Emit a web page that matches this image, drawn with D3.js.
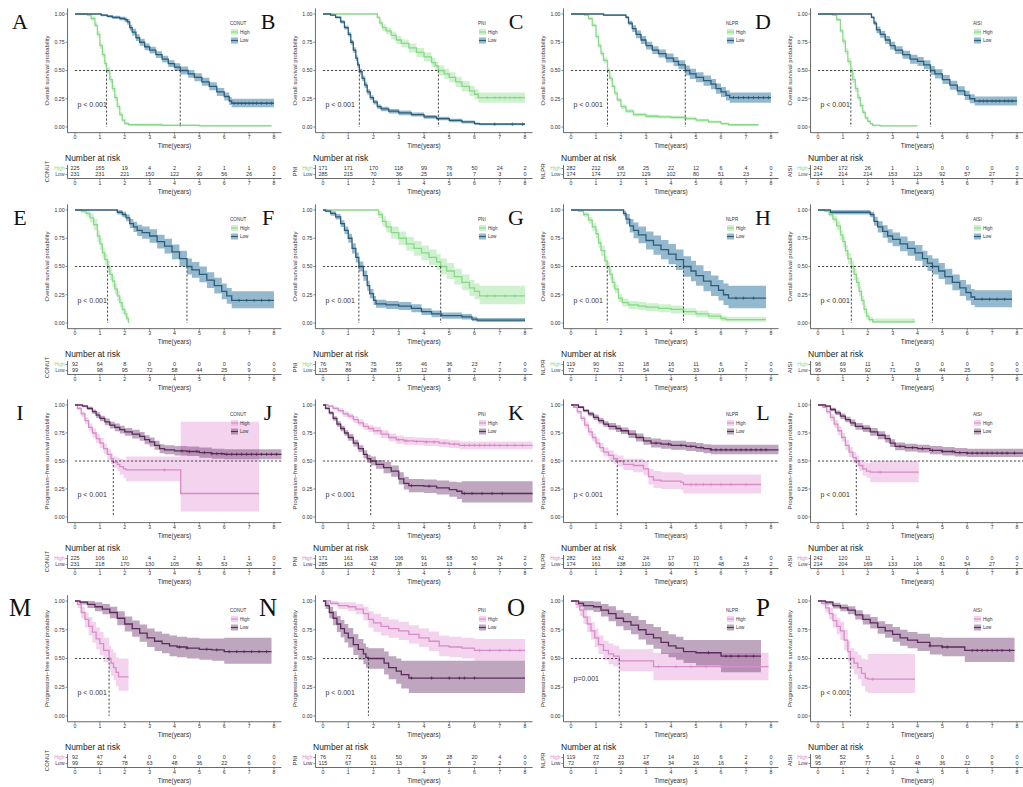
<!DOCTYPE html>
<html><head><meta charset="utf-8">
<script src="https://cdn.jsdelivr.net/npm/d3@7"></script>
<style>body{margin:0;background:#fff}svg{display:block}</style>
</head><body>
<svg id="c" width="1023" height="787"></svg>
<script>
// ---------- labels ----------
const letters = ["A","B","C","D","E","F","G","H","I","J","K","L","M","N","O","P"];
const groups = ["CONUT","PNI","NLPR","AISI"];
const xTicks = [0,1,2,3,4,5,6,7,8];
const yTicks = [0,0.25,0.5,0.75,1];
const yTickLabels = ["0.00","0.25","0.50","0.75","1.00"];
const endpointTitles = ["Overall survival probability","Progression\u2212free survival probability"];
const pTexts = ["p < 0.001","p < 0.001","p < 0.001","p < 0.001","p < 0.001","p < 0.001","p < 0.001","p < 0.001",
                "p < 0.001","p < 0.001","p < 0.001","p < 0.001","p < 0.001","p < 0.001","p=0.001","p < 0.001"];
const pLevels = [0.2,0.2,0.2,0.2,0.2,0.2,0.2,0.2,0.2,0.2,0.2,0.2,0.2,0.2,0.33,0.2];
const hLineFull = [0,0,0,0,0,0,0,0,1,1,1,1,0,0,0,0];
const groupLevels = ["High","Low"];

// ---------- curves: [time, survival, lower, upper] ----------
const aHigh=[[0,1,1,1],[0.5,0.99,0.98,1],[0.65,0.96,0.94,0.98],[0.8,0.9,0.88,0.93],[0.9,0.82,0.79,0.85],[1.0,0.72,0.69,0.75],[1.1,0.64,0.61,0.67],[1.2,0.56,0.53,0.59],[1.27,0.5,0.47,0.53],[1.4,0.42,0.39,0.45],[1.5,0.34,0.31,0.37],[1.6,0.26,0.23,0.29],[1.7,0.18,0.16,0.21],[1.8,0.11,0.09,0.13],[1.9,0.06,0.045,0.075],[2.0,0.03,0.02,0.045],[2.15,0.02,0.01,0.03],[3.5,0.015,0.007,0.025],[5,0.01,0.004,0.02],[7.9,0.01,0.004,0.02]];
const aLow=[[0,1,1,1],[1.05,0.99,0.98,1],[1.3,0.98,0.97,0.99],[1.5,0.97,0.955,0.985],[1.8,0.96,0.945,0.975],[2.0,0.95,0.93,0.97],[2.1,0.93,0.905,0.955],[2.2,0.88,0.855,0.905],[2.3,0.84,0.81,0.87],[2.45,0.79,0.76,0.82],[2.6,0.75,0.72,0.78],[2.8,0.71,0.68,0.74],[3.0,0.68,0.65,0.71],[3.25,0.64,0.61,0.67],[3.5,0.6,0.57,0.63],[3.75,0.56,0.53,0.59],[4.0,0.53,0.495,0.565],[4.23,0.5,0.465,0.535],[4.55,0.47,0.435,0.505],[4.8,0.44,0.405,0.475],[5.1,0.4,0.365,0.435],[5.4,0.36,0.325,0.395],[5.7,0.31,0.275,0.345],[6.0,0.27,0.235,0.305],[6.2,0.23,0.195,0.265],[6.3,0.21,0.175,0.25],[8,0.21,0.175,0.25]];
const bHigh=[[0,1,1,1],[2.15,0.97,0.955,0.985],[2.25,0.92,0.895,0.945],[2.35,0.88,0.85,0.91],[2.5,0.85,0.82,0.88],[2.7,0.81,0.775,0.845],[2.9,0.77,0.735,0.805],[3.1,0.74,0.705,0.775],[3.4,0.7,0.66,0.74],[3.7,0.66,0.62,0.7],[4.0,0.62,0.58,0.66],[4.3,0.57,0.53,0.61],[4.45,0.54,0.5,0.58],[4.57,0.5,0.455,0.545],[4.8,0.47,0.425,0.515],[5.0,0.44,0.395,0.485],[5.25,0.4,0.355,0.445],[5.5,0.36,0.315,0.405],[5.8,0.32,0.275,0.365],[6.0,0.29,0.245,0.335],[6.15,0.26,0.215,0.305],[8,0.26,0.215,0.31]];
const bLow=[[0,1,1,1],[0.3,0.99,0.985,0.995],[0.5,0.97,0.96,0.98],[0.7,0.93,0.915,0.945],[0.85,0.88,0.862,0.898],[1.0,0.82,0.8,0.84],[1.1,0.75,0.728,0.772],[1.2,0.68,0.655,0.705],[1.3,0.61,0.585,0.635],[1.37,0.55,0.525,0.575],[1.44,0.49,0.465,0.515],[1.55,0.43,0.405,0.455],[1.65,0.37,0.345,0.395],[1.75,0.31,0.285,0.335],[1.87,0.26,0.238,0.282],[2.0,0.22,0.2,0.24],[2.15,0.18,0.16,0.2],[2.3,0.16,0.14,0.18],[2.6,0.14,0.12,0.16],[3.0,0.125,0.105,0.145],[3.5,0.11,0.092,0.128],[4.0,0.09,0.073,0.107],[4.5,0.075,0.059,0.091],[5.0,0.058,0.043,0.073],[5.5,0.045,0.032,0.058],[6.0,0.03,0.02,0.04],[6.2,0.025,0.015,0.035],[8,0.025,0.015,0.035]];
const cHigh=[[0,1,1,1],[0.55,0.99,0.985,0.995],[0.7,0.96,0.95,0.97],[0.85,0.9,0.885,0.915],[1.0,0.8,0.78,0.82],[1.1,0.72,0.695,0.745],[1.2,0.65,0.625,0.675],[1.3,0.59,0.565,0.615],[1.46,0.5,0.475,0.525],[1.55,0.43,0.405,0.455],[1.65,0.36,0.335,0.385],[1.75,0.3,0.278,0.322],[1.85,0.24,0.22,0.26],[2.0,0.18,0.16,0.2],[2.2,0.14,0.122,0.158],[2.5,0.11,0.094,0.126],[3.0,0.095,0.08,0.11],[3.5,0.09,0.075,0.105],[4.0,0.085,0.07,0.1],[4.6,0.075,0.06,0.09],[5.0,0.06,0.047,0.073],[5.5,0.045,0.033,0.057],[6.0,0.03,0.02,0.04],[6.3,0.02,0.012,0.028],[7.5,0.02,0.012,0.028]];
const cLow=[[0,1,1,1],[1.3,0.99,0.982,0.998],[2.2,0.97,0.958,0.982],[2.3,0.92,0.9,0.94],[2.45,0.87,0.84,0.9],[2.6,0.82,0.785,0.855],[2.8,0.77,0.735,0.805],[3.0,0.72,0.685,0.755],[3.25,0.68,0.645,0.715],[3.5,0.65,0.615,0.685],[3.8,0.61,0.57,0.65],[4.1,0.58,0.54,0.62],[4.3,0.55,0.51,0.59],[4.57,0.5,0.455,0.545],[4.75,0.47,0.425,0.515],[5.0,0.44,0.395,0.485],[5.3,0.41,0.365,0.455],[5.6,0.38,0.335,0.425],[5.8,0.34,0.295,0.385],[6.0,0.31,0.265,0.355],[6.2,0.28,0.235,0.325],[6.35,0.26,0.215,0.305],[8,0.26,0.215,0.305]];
const dHigh=[[0,1,1,1],[0.6,0.99,0.985,0.995],[0.75,0.95,0.938,0.962],[0.9,0.85,0.83,0.87],[1.0,0.76,0.735,0.785],[1.1,0.67,0.64,0.7],[1.2,0.58,0.55,0.61],[1.32,0.5,0.47,0.53],[1.4,0.42,0.39,0.45],[1.5,0.34,0.31,0.37],[1.6,0.26,0.232,0.288],[1.7,0.19,0.165,0.215],[1.8,0.13,0.11,0.15],[1.9,0.08,0.065,0.095],[2.0,0.05,0.038,0.062],[2.1,0.03,0.02,0.04],[2.2,0.015,0.007,0.023],[2.5,0.01,0.004,0.016],[4.0,0.01,0.004,0.016]];
const dLow=[[0,1,1,1],[2.15,0.97,0.96,0.98],[2.25,0.92,0.9,0.94],[2.35,0.86,0.83,0.89],[2.5,0.82,0.79,0.85],[2.7,0.77,0.735,0.805],[2.9,0.72,0.685,0.755],[3.1,0.68,0.645,0.715],[3.4,0.64,0.605,0.675],[3.7,0.6,0.56,0.64],[4.0,0.58,0.54,0.62],[4.25,0.55,0.51,0.59],[4.52,0.5,0.46,0.54],[4.7,0.47,0.43,0.51],[5.0,0.42,0.38,0.46],[5.3,0.37,0.33,0.41],[5.6,0.32,0.28,0.36],[5.9,0.28,0.24,0.32],[6.1,0.25,0.21,0.29],[6.3,0.23,0.19,0.27],[8,0.23,0.19,0.27]];
const eHigh=[[0,1,1,1],[0.25,0.99,0.97,1],[0.45,0.97,0.94,1],[0.6,0.93,0.89,0.97],[0.75,0.87,0.82,0.92],[0.9,0.77,0.72,0.82],[1.0,0.7,0.65,0.75],[1.1,0.62,0.57,0.67],[1.2,0.56,0.51,0.61],[1.31,0.5,0.45,0.55],[1.4,0.43,0.38,0.48],[1.5,0.37,0.32,0.42],[1.6,0.3,0.255,0.345],[1.7,0.24,0.195,0.285],[1.8,0.18,0.14,0.22],[1.9,0.12,0.085,0.155],[2.0,0.08,0.05,0.11],[2.08,0.04,0.015,0.065],[2.15,0,0,0]];
const eLow=[[0,1,1,1],[1.7,0.98,0.96,1],[1.9,0.96,0.935,0.985],[2.05,0.93,0.9,0.96],[2.2,0.88,0.84,0.92],[2.35,0.85,0.805,0.895],[2.5,0.82,0.77,0.87],[2.7,0.8,0.745,0.855],[3.0,0.77,0.71,0.83],[3.3,0.72,0.66,0.78],[3.6,0.68,0.615,0.745],[3.9,0.63,0.565,0.695],[4.2,0.57,0.5,0.64],[4.5,0.5,0.43,0.57],[4.7,0.47,0.4,0.54],[5.0,0.43,0.36,0.5],[5.3,0.38,0.31,0.45],[5.6,0.33,0.26,0.4],[5.9,0.28,0.21,0.35],[6.1,0.24,0.17,0.31],[6.3,0.2,0.13,0.28],[8,0.2,0.13,0.28]];
const fHigh=[[0,1,1,1],[2.2,0.96,0.93,0.99],[2.35,0.9,0.855,0.945],[2.5,0.85,0.8,0.9],[2.7,0.8,0.745,0.855],[3.0,0.75,0.69,0.81],[3.3,0.7,0.64,0.76],[3.6,0.66,0.595,0.725],[3.9,0.62,0.555,0.685],[4.2,0.58,0.51,0.65],[4.5,0.54,0.47,0.61],[4.66,0.5,0.43,0.57],[4.9,0.46,0.39,0.53],[5.2,0.41,0.34,0.48],[5.5,0.36,0.29,0.43],[5.8,0.31,0.24,0.38],[6.0,0.28,0.21,0.35],[6.2,0.24,0.165,0.33],[8,0.24,0.165,0.33]];
const fLow=[[0,1,1,1],[0.1,0.99,0.98,1],[0.3,0.97,0.95,0.99],[0.5,0.94,0.915,0.965],[0.7,0.88,0.85,0.91],[0.85,0.82,0.785,0.855],[1.0,0.75,0.71,0.79],[1.15,0.66,0.615,0.705],[1.3,0.58,0.535,0.625],[1.42,0.5,0.455,0.545],[1.6,0.42,0.375,0.465],[1.75,0.33,0.285,0.375],[1.85,0.26,0.22,0.3],[2.0,0.2,0.16,0.24],[2.1,0.17,0.135,0.205],[2.5,0.16,0.125,0.195],[3.0,0.15,0.115,0.185],[3.5,0.13,0.095,0.165],[3.9,0.1,0.07,0.13],[4.3,0.08,0.05,0.11],[4.7,0.065,0.037,0.093],[5.5,0.055,0.03,0.08],[5.9,0.035,0.015,0.055],[6.1,0.025,0.008,0.045],[8,0.025,0.008,0.045]];
const gHigh=[[0,1,1,1],[0.3,0.99,0.98,1],[0.5,0.96,0.94,0.98],[0.7,0.91,0.88,0.94],[0.85,0.85,0.815,0.885],[1.0,0.79,0.75,0.83],[1.1,0.71,0.665,0.755],[1.2,0.64,0.595,0.685],[1.35,0.55,0.505,0.595],[1.45,0.5,0.455,0.545],[1.55,0.43,0.385,0.475],[1.65,0.36,0.315,0.405],[1.75,0.3,0.26,0.34],[1.9,0.22,0.185,0.255],[2.05,0.18,0.145,0.215],[2.3,0.16,0.125,0.195],[2.7,0.15,0.115,0.185],[3.0,0.14,0.105,0.175],[3.5,0.13,0.095,0.165],[4.0,0.12,0.085,0.155],[4.5,0.1,0.07,0.13],[5.0,0.08,0.05,0.11],[5.5,0.06,0.035,0.088],[6.0,0.04,0.018,0.065],[6.2,0.03,0.01,0.055],[7.8,0.03,0.01,0.055]];
const gLow=[[0,1,1,1],[2.1,0.97,0.945,0.995],[2.2,0.92,0.875,0.965],[2.35,0.86,0.8,0.92],[2.5,0.82,0.75,0.89],[2.7,0.78,0.705,0.855],[3.0,0.73,0.65,0.81],[3.3,0.69,0.605,0.775],[3.6,0.65,0.565,0.735],[3.9,0.61,0.52,0.7],[4.2,0.56,0.47,0.65],[4.5,0.5,0.41,0.59],[4.8,0.46,0.37,0.55],[5.0,0.42,0.33,0.51],[5.3,0.37,0.28,0.46],[5.6,0.33,0.24,0.42],[5.9,0.29,0.2,0.38],[6.1,0.25,0.16,0.35],[6.3,0.22,0.13,0.33],[7.8,0.22,0.13,0.33]];
const hHigh=[[0,1,1,1],[0.25,0.99,0.98,1],[0.45,0.96,0.94,0.98],[0.6,0.92,0.89,0.95],[0.75,0.86,0.82,0.9],[0.9,0.78,0.735,0.825],[1.0,0.72,0.67,0.77],[1.1,0.64,0.59,0.69],[1.2,0.57,0.52,0.62],[1.34,0.5,0.45,0.55],[1.45,0.43,0.38,0.48],[1.55,0.36,0.315,0.405],[1.65,0.28,0.235,0.325],[1.75,0.2,0.16,0.24],[1.85,0.12,0.085,0.155],[1.95,0.06,0.03,0.09],[2.05,0.03,0.01,0.055],[2.2,0.01,0,0.04],[3.9,0.01,0,0.04]];
const hLow=[[0,1,1,1],[0.5,0.98,0.96,1],[2.1,0.96,0.935,0.985],[2.25,0.9,0.86,0.94],[2.4,0.85,0.8,0.9],[2.6,0.81,0.755,0.865],[2.8,0.77,0.71,0.83],[3.0,0.74,0.68,0.8],[3.3,0.7,0.635,0.765],[3.6,0.66,0.595,0.725],[3.9,0.62,0.55,0.69],[4.2,0.57,0.5,0.64],[4.4,0.53,0.46,0.6],[4.6,0.5,0.43,0.57],[4.85,0.46,0.39,0.53],[5.1,0.41,0.34,0.48],[5.4,0.36,0.29,0.43],[5.7,0.31,0.24,0.38],[5.95,0.27,0.2,0.34],[6.15,0.23,0.16,0.3],[6.3,0.21,0.14,0.29],[7.8,0.21,0.14,0.29]];
const iHigh=[[0,1,1,1],[0.1,0.97,0.955,0.985],[0.25,0.92,0.895,0.945],[0.4,0.86,0.83,0.89],[0.55,0.8,0.765,0.835],[0.7,0.75,0.71,0.79],[0.85,0.7,0.66,0.74],[1.0,0.66,0.615,0.705],[1.15,0.61,0.565,0.655],[1.3,0.56,0.51,0.61],[1.45,0.52,0.47,0.57],[1.54,0.49,0.44,0.54],[1.7,0.47,0.41,0.53],[1.8,0.45,0.38,0.52],[1.95,0.43,0.35,0.51],[2.05,0.42,0.32,0.54],[4.25,0.21,0.05,0.85],[7.4,0.21,0.05,0.85]];
const iLow=[[0,1,1,1],[0.3,0.99,0.98,1],[0.5,0.97,0.955,0.985],[0.7,0.94,0.92,0.96],[0.85,0.91,0.885,0.935],[1.0,0.88,0.855,0.905],[1.2,0.85,0.82,0.88],[1.4,0.82,0.79,0.85],[1.6,0.8,0.765,0.835],[1.8,0.78,0.745,0.815],[2.0,0.76,0.725,0.795],[2.3,0.74,0.7,0.78],[2.6,0.72,0.68,0.76],[2.8,0.69,0.65,0.73],[3.0,0.67,0.63,0.71],[3.2,0.64,0.6,0.68],[3.4,0.61,0.57,0.65],[3.6,0.6,0.56,0.64],[4.0,0.59,0.55,0.635],[4.5,0.585,0.545,0.63],[5.0,0.575,0.53,0.62],[5.5,0.565,0.52,0.61],[6.0,0.56,0.515,0.605],[8.3,0.56,0.515,0.61]];
const jHigh=[[0,1,1,1],[0.2,0.99,0.98,1],[0.4,0.97,0.955,0.985],[0.6,0.95,0.93,0.97],[0.8,0.92,0.895,0.945],[1.0,0.9,0.875,0.925],[1.2,0.87,0.84,0.9],[1.4,0.84,0.81,0.87],[1.6,0.81,0.78,0.84],[1.8,0.79,0.76,0.82],[2.0,0.77,0.735,0.805],[2.3,0.74,0.705,0.775],[2.6,0.71,0.675,0.745],[2.9,0.69,0.655,0.725],[3.2,0.68,0.645,0.715],[3.6,0.675,0.64,0.71],[4.0,0.67,0.635,0.705],[4.6,0.66,0.625,0.695],[5.0,0.65,0.615,0.685],[5.4,0.64,0.605,0.675],[8.3,0.64,0.605,0.675]];
const jLow=[[0,1,1,1],[0.1,0.97,0.96,0.98],[0.25,0.93,0.915,0.945],[0.4,0.88,0.86,0.9],[0.55,0.83,0.805,0.855],[0.7,0.79,0.765,0.815],[0.85,0.75,0.725,0.775],[1.0,0.71,0.68,0.74],[1.2,0.66,0.63,0.69],[1.4,0.61,0.58,0.64],[1.6,0.56,0.525,0.595],[1.75,0.52,0.485,0.555],[1.89,0.5,0.46,0.54],[2.1,0.47,0.43,0.51],[2.4,0.44,0.39,0.49],[2.7,0.41,0.36,0.46],[3.0,0.34,0.29,0.4],[3.2,0.3,0.245,0.36],[3.4,0.28,0.22,0.34],[4.0,0.275,0.215,0.335],[4.5,0.26,0.2,0.325],[5.0,0.245,0.18,0.315],[5.3,0.23,0.16,0.31],[5.5,0.21,0.13,0.32],[8.3,0.21,0.13,0.32]];
const kHigh=[[0,1,1,1],[0.1,0.98,0.97,0.99],[0.25,0.94,0.92,0.96],[0.4,0.88,0.855,0.905],[0.55,0.82,0.79,0.85],[0.7,0.76,0.725,0.795],[0.85,0.71,0.675,0.745],[1.0,0.66,0.62,0.7],[1.15,0.62,0.58,0.66],[1.3,0.58,0.54,0.62],[1.5,0.55,0.505,0.595],[1.7,0.52,0.475,0.565],[1.85,0.5,0.45,0.55],[2.1,0.47,0.42,0.52],[2.5,0.46,0.4,0.52],[2.9,0.43,0.37,0.5],[3.1,0.36,0.29,0.43],[3.3,0.33,0.26,0.41],[3.6,0.32,0.25,0.4],[4.4,0.31,0.24,0.39],[4.5,0.29,0.21,0.38],[7.6,0.29,0.21,0.38]];
const kLow=[[0,1,1,1],[0.3,0.98,0.97,0.99],[0.5,0.95,0.935,0.965],[0.7,0.92,0.9,0.94],[0.9,0.89,0.865,0.915],[1.1,0.86,0.835,0.885],[1.3,0.83,0.805,0.855],[1.5,0.81,0.78,0.84],[1.8,0.79,0.76,0.82],[2.0,0.77,0.74,0.8],[2.3,0.74,0.705,0.775],[2.6,0.71,0.675,0.745],[2.9,0.68,0.645,0.715],[3.2,0.66,0.62,0.7],[3.6,0.65,0.61,0.69],[4.0,0.64,0.6,0.68],[4.6,0.63,0.59,0.67],[5.0,0.62,0.58,0.66],[5.3,0.61,0.57,0.65],[5.6,0.6,0.56,0.645],[8.3,0.6,0.555,0.645]];
const lHigh=[[0,1,1,1],[0.2,0.98,0.97,0.99],[0.35,0.94,0.92,0.96],[0.5,0.89,0.86,0.92],[0.65,0.83,0.795,0.865],[0.8,0.77,0.73,0.81],[0.95,0.71,0.67,0.75],[1.1,0.64,0.595,0.685],[1.25,0.58,0.535,0.625],[1.4,0.53,0.48,0.58],[1.54,0.5,0.45,0.55],[1.65,0.46,0.41,0.51],[1.8,0.43,0.37,0.49],[1.95,0.41,0.35,0.48],[2.1,0.4,0.31,0.5],[4.05,0.4,0.31,0.5]];
const lLow=[[0,1,1,1],[0.3,0.99,0.98,1],[0.5,0.96,0.945,0.975],[0.7,0.93,0.91,0.95],[0.9,0.9,0.875,0.925],[1.1,0.87,0.845,0.895],[1.3,0.84,0.81,0.87],[1.5,0.81,0.78,0.84],[1.8,0.79,0.76,0.82],[2.1,0.76,0.725,0.795],[2.4,0.73,0.695,0.765],[2.7,0.7,0.665,0.735],[2.9,0.66,0.625,0.695],[3.1,0.63,0.595,0.665],[3.5,0.62,0.585,0.655],[4.0,0.61,0.575,0.645],[4.5,0.595,0.56,0.635],[5.0,0.585,0.55,0.625],[5.5,0.575,0.54,0.615],[6.0,0.57,0.535,0.61],[8.3,0.57,0.53,0.61]];
const mHigh=[[0,1,1,1],[0.1,0.97,0.94,1],[0.25,0.9,0.85,0.95],[0.4,0.84,0.77,0.9],[0.55,0.78,0.7,0.86],[0.7,0.73,0.64,0.82],[0.85,0.67,0.58,0.77],[1.0,0.63,0.53,0.73],[1.15,0.57,0.47,0.68],[1.37,0.5,0.4,0.61],[1.45,0.46,0.35,0.58],[1.55,0.42,0.31,0.55],[1.65,0.38,0.26,0.51],[1.75,0.34,0.22,0.5],[2.15,0.34,0.22,0.5]];
const mLow=[[0,1,1,1],[0.2,0.99,0.97,1],[0.5,0.97,0.94,1],[0.8,0.95,0.91,0.99],[1.1,0.93,0.885,0.975],[1.4,0.9,0.85,0.95],[1.7,0.85,0.79,0.91],[2.0,0.8,0.735,0.865],[2.3,0.76,0.69,0.83],[2.6,0.72,0.645,0.795],[2.9,0.68,0.6,0.76],[3.2,0.65,0.565,0.735],[3.5,0.63,0.545,0.715],[3.8,0.61,0.52,0.7],[4.1,0.6,0.51,0.69],[4.5,0.59,0.5,0.68],[5.0,0.58,0.49,0.675],[5.5,0.575,0.48,0.675],[6.0,0.56,0.455,0.68],[7.9,0.56,0.455,0.68]];
const nHigh=[[0,1,1,1],[0.3,0.98,0.96,1],[0.6,0.96,0.93,0.99],[1.0,0.95,0.91,0.99],[1.3,0.93,0.885,0.975],[1.6,0.89,0.83,0.95],[1.8,0.84,0.77,0.91],[2.0,0.81,0.73,0.89],[2.3,0.78,0.7,0.86],[2.6,0.76,0.68,0.84],[3.0,0.74,0.66,0.82],[3.4,0.71,0.63,0.79],[3.8,0.68,0.6,0.76],[4.2,0.65,0.565,0.735],[4.6,0.61,0.52,0.7],[5.0,0.6,0.51,0.69],[5.5,0.59,0.5,0.68],[6.0,0.57,0.48,0.67],[8,0.57,0.48,0.67]];
const nLow=[[0,1,1,1],[0.1,0.96,0.93,0.99],[0.25,0.9,0.85,0.95],[0.4,0.85,0.79,0.91],[0.55,0.8,0.73,0.87],[0.7,0.76,0.685,0.835],[0.85,0.72,0.64,0.8],[1.0,0.68,0.595,0.765],[1.2,0.62,0.53,0.71],[1.4,0.58,0.49,0.67],[1.6,0.54,0.45,0.63],[1.7,0.51,0.42,0.6],[1.8,0.5,0.41,0.59],[2.42,0.46,0.36,0.56],[2.6,0.42,0.32,0.52],[2.9,0.39,0.28,0.5],[3.1,0.36,0.24,0.48],[3.4,0.33,0.2,0.48],[8,0.33,0.2,0.48]];
const oHigh=[[0,1,1,1],[0.2,0.97,0.94,1],[0.35,0.92,0.87,0.97],[0.5,0.86,0.8,0.92],[0.65,0.8,0.73,0.87],[0.8,0.74,0.665,0.815],[0.95,0.68,0.6,0.76],[1.1,0.62,0.54,0.7],[1.3,0.57,0.485,0.655],[1.5,0.54,0.45,0.63],[1.7,0.52,0.43,0.61],[1.93,0.48,0.39,0.58],[3.3,0.43,0.31,0.55],[7.9,0.43,0.31,0.55]];
const oLow=[[0,1,1,1],[0.3,0.98,0.95,1],[0.5,0.96,0.92,1],[0.9,0.95,0.905,0.995],[1.2,0.92,0.865,0.975],[1.5,0.89,0.825,0.955],[1.8,0.85,0.78,0.92],[2.1,0.82,0.745,0.895],[2.4,0.79,0.71,0.87],[2.7,0.75,0.665,0.835],[3.0,0.71,0.62,0.8],[3.3,0.68,0.585,0.775],[3.6,0.64,0.54,0.74],[3.9,0.61,0.51,0.71],[4.2,0.59,0.49,0.69],[4.5,0.56,0.46,0.66],[5.0,0.55,0.44,0.66],[6.0,0.52,0.38,0.66],[7.6,0.52,0.38,0.66]];
const pHigh=[[0,1,1,1],[0.15,0.98,0.96,1],[0.3,0.94,0.9,0.98],[0.45,0.89,0.84,0.94],[0.6,0.83,0.77,0.89],[0.75,0.78,0.71,0.85],[0.9,0.74,0.66,0.82],[1.05,0.66,0.57,0.75],[1.2,0.56,0.47,0.65],[1.3,0.5,0.41,0.59],[1.45,0.46,0.36,0.56],[1.6,0.42,0.32,0.53],[1.75,0.37,0.26,0.5],[1.9,0.33,0.21,0.49],[2.0,0.32,0.2,0.54],[3.9,0.32,0.2,0.54]];
const pLow=[[0,1,1,1],[0.3,0.99,0.97,1],[0.6,0.96,0.935,0.985],[0.9,0.94,0.91,0.97],[1.2,0.92,0.885,0.955],[1.5,0.88,0.84,0.92],[1.8,0.84,0.795,0.885],[2.1,0.81,0.76,0.86],[2.4,0.77,0.715,0.825],[2.7,0.74,0.68,0.8],[3.0,0.71,0.645,0.775],[3.3,0.68,0.61,0.75],[3.6,0.66,0.59,0.73],[4.0,0.64,0.565,0.715],[4.5,0.61,0.535,0.685],[5.0,0.6,0.52,0.68],[5.5,0.6,0.52,0.68],[5.9,0.57,0.47,0.68],[7.9,0.57,0.47,0.68]];

// ---------- censoring times ----------
const aCensHigh=[], aCensLow=[6.4,6.55,6.7,6.85,7.0,7.15,7.3,7.5,7.7,7.9];
const bCensHigh=[6.5,6.8,7.0,7.2,7.4,7.6,7.8], bCensLow=[6.8,7.5,7.9];
const cCensHigh=[], cCensLow=[6.5,6.7,6.9,7.1,7.3,7.5,7.7,7.9];
const dCensHigh=[], dCensLow=[6.5,6.65,6.8,7.0,7.15,7.3,7.5,7.65,7.8];
const eCensHigh=[], eCensLow=[6.6,6.9,7.2,7.5,7.8];
const fCensHigh=[6.5,6.8,7.2,7.6], fCensLow=[];
const gCensHigh=[], gCensLow=[6.6,6.9,7.3];
const hCensHigh=[], hCensLow=[6.6,6.9,7.2,7.5];
const iCensHigh=[3.6], iCensLow=[4.3,4.6,4.9,5.2,5.5,5.7,5.9,6.1,6.3,6.5,6.7,6.9,7.1,7.3,7.5,7.7,7.9,8.1];
const jCensHigh=[3.0,3.3,3.7,4.1,4.4,4.8,5.2,5.6,5.8,6.0,6.2,6.4,6.6,6.8,7.0,7.3,7.6,7.9], jCensLow=[3.5,4.2,5.6,5.9,6.3,6.7,7.1];
const kCensHigh=[4.8,5.0,5.3,5.6,6.0,6.4,7.0], kCensLow=[3.4,3.9,4.4,4.8,5.2,5.6,5.8,6.0,6.2,6.4,6.6,6.8,7.0,7.2,7.4,7.6,7.8];
const lCensHigh=[2.5], lCensLow=[3.3,3.8,4.2,4.6,5.0,5.4,5.7,6.0,6.2,6.4,6.6,6.8,7.0,7.2,7.4,7.6,7.9];
const mCensHigh=[], mCensLow=[4.2,4.5,5.3,5.7,6.2,6.5,6.8,7.1,7.4,7.7];
const nCensHigh=[6.2,6.6,7.0,7.4,7.8], nCensLow=[3.5,4.3,5.0,5.4,5.6,6.0];
const oCensHigh=[3.5,4.2,4.8,5.4,6.0,7.0], oCensLow=[5.5,6.2,6.4,6.7,7.0,7.3];
const pCensHigh=[2.2], pCensLow=[4.5,5.0,5.2,6.2,6.4,6.6,6.8,7.0,7.2,7.4,7.7];

// ---------- numbers at risk (years 0..8) ----------
const aRiskHigh=[225,155,19,4,2,2,1,1,0], aRiskLow=[231,231,221,150,122,90,56,26,2];
const bRiskHigh=[171,171,170,118,99,76,50,24,2], bRiskLow=[285,215,70,36,25,16,7,3,0];
const cRiskHigh=[282,212,68,25,22,12,6,4,0], cRiskLow=[174,174,172,129,102,80,51,23,2];
const dRiskHigh=[242,172,26,1,1,0,0,0,0], dRiskLow=[214,214,214,153,123,92,57,27,2];
const eRiskHigh=[92,64,8,0,0,0,0,0,0], eRiskLow=[99,98,95,72,58,44,25,9,0];
const fRiskHigh=[76,76,75,55,46,36,23,7,0], fRiskLow=[115,86,28,17,12,8,2,2,0];
const gRiskHigh=[119,90,32,18,16,11,6,2,0], gRiskLow=[72,72,71,54,42,33,19,7,0];
const hRiskHigh=[96,69,11,1,0,0,0,0,0], hRiskLow=[95,93,92,71,58,44,25,9,0];
const iRiskHigh=[225,106,10,4,2,1,1,1,0], iRiskLow=[231,218,170,130,105,80,53,26,2];
const jRiskHigh=[171,161,138,106,91,68,50,24,2], jRiskLow=[285,163,42,28,16,13,4,3,0];
const kRiskHigh=[282,163,42,24,17,10,6,4,0], kRiskLow=[174,161,138,110,90,71,48,23,2];
const lRiskHigh=[242,120,11,1,1,0,0,0,0], lRiskLow=[214,204,169,133,106,81,54,27,2];
const mRiskHigh=[92,47,4,0,0,0,0,0,0], mRiskLow=[99,92,78,63,48,36,22,6,0];
const nRiskHigh=[76,72,61,50,39,28,20,4,0], nRiskLow=[115,67,21,13,9,8,2,2,0];
const oRiskHigh=[119,72,23,17,14,10,6,2,0], oRiskLow=[72,67,59,48,34,26,16,4,0];
const pRiskHigh=[96,52,5,1,0,0,0,0,0], pRiskLow=[95,87,77,62,48,36,22,6,0];

// ---------- assemble ----------
const curveSets=[[aHigh,aLow],[bHigh,bLow],[cHigh,cLow],[dHigh,dLow],[eHigh,eLow],[fHigh,fLow],[gHigh,gLow],[hHigh,hLow],
  [iHigh,iLow],[jHigh,jLow],[kHigh,kLow],[lHigh,lLow],[mHigh,mLow],[nHigh,nLow],[oHigh,oLow],[pHigh,pLow]];
const censSets=[[aCensHigh,aCensLow],[bCensHigh,bCensLow],[cCensHigh,cCensLow],[dCensHigh,dCensLow],[eCensHigh,eCensLow],[fCensHigh,fCensLow],[gCensHigh,gCensLow],[hCensHigh,hCensLow],
  [iCensHigh,iCensLow],[jCensHigh,jCensLow],[kCensHigh,kCensLow],[lCensHigh,lCensLow],[mCensHigh,mCensLow],[nCensHigh,nCensLow],[oCensHigh,oCensLow],[pCensHigh,pCensLow]];
const riskSets=[[aRiskHigh,aRiskLow],[bRiskHigh,bRiskLow],[cRiskHigh,cRiskLow],[dRiskHigh,dRiskLow],[eRiskHigh,eRiskLow],[fRiskHigh,fRiskLow],[gRiskHigh,gRiskLow],[hRiskHigh,hRiskLow],
  [iRiskHigh,iRiskLow],[jRiskHigh,jRiskLow],[kRiskHigh,kRiskLow],[lRiskHigh,lRiskLow],[mRiskHigh,mRiskLow],[nRiskHigh,nRiskLow],[oRiskHigh,oRiskLow],[pRiskHigh,pRiskLow]];

// ---------- layout & style ----------
const colX0=[75,323,571,818], colX8=[274,525,771,1017];
const rowTop=[14,210,405,601], rowY0=[127,323,517,716];
const palettes=[
  {line:["#86da86","#2b5c78"], fill:["#9fe49f","#3d7fa6"], op:[0.5,0.55]},
  {line:["#d88cc8","#5c2b5c"], fill:["#e7a8dc","#7d4d7d"], op:[0.5,0.5]}
];
const FONT="Liberation Sans, Arial, sans-serif";
const TXT="#333";

const svg=d3.select("#c");
svg.append("rect").attr("width",1023).attr("height",787).attr("fill","#fff");

function stepVal(curve,t){let v=curve[0][1];for(const k of curve){if(k[0]<=t)v=k[1];else break;}return v;}
function median(curve){for(const k of curve){if(k[1]<=0.5)return k[0];}return null;}

letters.forEach((L,i)=>{
  const r=Math.floor(i/4), c=i%4;
  const pal=palettes[r<2?0:1];
  const x=d3.scaleLinear().domain([0,8]).range([colX0[c],colX8[c]]);
  const y=d3.scaleLinear().domain([0,1]).range([rowY0[r],rowTop[r]]);
  const g=svg.append("g");
  const axX=x(-0.3), axYb=y(-0.05);

  // panel letter
  g.append("text").attr("x",colX0[c]-55).attr("y",rowTop[r]+15).attr("text-anchor","middle")
    .attr("font-family","Liberation Serif, Times New Roman, serif").attr("font-size",r===3?25:22).attr("fill","#111").text(L);

  // ribbons
  const area=d3.area().x(d=>x(d[0])).y0(d=>y(d[2])).y1(d=>y(d[3])).curve(d3.curveStepAfter);
  const line=d3.line().x(d=>x(d[0])).y(d=>y(d[1])).curve(d3.curveStepAfter);
  curveSets[i].forEach((cv,k)=>{
    g.append("path").attr("d",area(cv)).attr("fill",pal.fill[k]).attr("fill-opacity",pal.op[k]).attr("stroke","none");
  });
  curveSets[i].forEach((cv,k)=>{
    g.append("path").attr("d",line(cv)).attr("fill","none").attr("stroke",pal.line[k]).attr("stroke-width",1.3);
    censSets[i][k].forEach(t=>{
      const cx=x(t), cy=y(stepVal(cv,t));
      g.append("path").attr("d",`M${cx-1.6},${cy}H${cx+1.6}M${cx},${cy-1.6}V${cy+1.6}`).attr("stroke",pal.line[k]).attr("stroke-width",0.8);
    });
  });

  // median lines
  const meds=curveSets[i].map(median).filter(m=>m!==null);
  const hEnd=hLineFull[i]?8.3:d3.max(meds);
  g.append("line").attr("x1",x(0)).attr("x2",x(hEnd)).attr("y1",y(0.5)).attr("y2",y(0.5))
    .attr("stroke","#333").attr("stroke-width",0.9).attr("stroke-dasharray","2.2,1.8");
  meds.forEach(m=>{
    g.append("line").attr("x1",x(m)).attr("x2",x(m)).attr("y1",y(0.5)).attr("y2",y(0))
      .attr("stroke","#333").attr("stroke-width",0.9).attr("stroke-dasharray","2.2,1.8");
  });

  // axes
  g.append("line").attr("x1",axX).attr("x2",axX).attr("y1",y(1.05)).attr("y2",axYb).attr("stroke","#444").attr("stroke-width",0.8);
  g.append("line").attr("x1",axX).attr("x2",x(8.3)).attr("y1",axYb).attr("y2",axYb).attr("stroke","#444").attr("stroke-width",0.8);
  yTicks.forEach((v,k)=>{
    g.append("line").attr("x1",axX-2).attr("x2",axX).attr("y1",y(v)).attr("y2",y(v)).attr("stroke","#444").attr("stroke-width",0.6);
    g.append("text").attr("x",axX-3).attr("y",y(v)).attr("dy","0.35em").attr("text-anchor","end")
      .attr("font-family",FONT).attr("font-size",5.2).attr("fill",TXT).text(yTickLabels[k]);
  });
  xTicks.forEach(t=>{
    g.append("line").attr("x1",x(t)).attr("x2",x(t)).attr("y1",axYb).attr("y2",axYb+2).attr("stroke","#444").attr("stroke-width",0.6);
    g.append("text").attr("x",x(t)).attr("y",rowY0[r]+10).attr("dy","0.35em").attr("text-anchor","middle")
      .attr("font-family",FONT).attr("font-size",5.2).attr("fill",TXT).text(t);
  });
  g.append("text").attr("x",(x(0)+x(8))/2).attr("y",rowY0[r]+19).attr("dy","0.35em").attr("text-anchor","middle")
    .attr("font-family",FONT).attr("font-size",6.3).attr("fill",TXT).text("Time(years)");
  g.append("text").attr("transform",`translate(${colX0[c]-28},${y(0.5)}) rotate(-90)`).attr("dy","0.35em").attr("text-anchor","middle")
    .attr("font-family",FONT).attr("font-size",6).attr("fill",TXT).text(endpointTitles[r<2?0:1]);

  // p value
  g.append("text").attr("x",x(0.1)).attr("y",y(pLevels[i])).attr("dy","0.35em")
    .attr("font-family",FONT).attr("font-size",7).attr("fill",TXT).text(pTexts[i]);

  // legend
  const lx=colX0[c]+155, ly=rowTop[r];
  g.append("text").attr("x",lx).attr("y",ly+9).attr("dy","0.35em").attr("font-family",FONT).attr("font-size",4.6).attr("fill",TXT).text(groups[c]);
  groupLevels.forEach((lab,k)=>{
    const yy=ly+18+k*8.5;
    g.append("rect").attr("x",lx+1).attr("y",yy-3).attr("width",7).attr("height",6).attr("fill",pal.fill[k]).attr("fill-opacity",pal.op[k]);
    g.append("line").attr("x1",lx+1).attr("x2",lx+8).attr("y1",yy).attr("y2",yy).attr("stroke",pal.line[k]).attr("stroke-width",1.1);
    g.append("text").attr("x",lx+10).attr("y",yy).attr("dy","0.35em").attr("font-family",FONT).attr("font-size",4.6).attr("fill",TXT).text(lab);
  });

  // risk table
  const y0=rowY0[r];
  g.append("text").attr("x",colX0[c]-10).attr("y",y0+31).attr("dy","0.35em")
    .attr("font-family",FONT).attr("font-size",8.5).attr("fill","#222").text("Number at risk");
  const rowYs=[y0+41.5,y0+47.5];
  const tAx=y0+51.5;
  g.append("line").attr("x1",axX).attr("x2",axX).attr("y1",rowYs[0]-3.5).attr("y2",tAx).attr("stroke","#444").attr("stroke-width",0.8);
  g.append("line").attr("x1",axX).attr("x2",x(8.3)).attr("y1",tAx).attr("y2",tAx).attr("stroke","#444").attr("stroke-width",0.8);
  riskSets[i].forEach((vals,k)=>{
    g.append("line").attr("x1",axX-2).attr("x2",axX).attr("y1",rowYs[k]).attr("y2",rowYs[k]).attr("stroke","#444").attr("stroke-width",0.6);
    g.append("text").attr("x",axX-3).attr("y",rowYs[k]).attr("dy","0.35em").attr("text-anchor","end")
      .attr("font-family",FONT).attr("font-size",5).attr("fill",k===0?pal.line[0]:pal.line[1]).text(groupLevels[k]);
    vals.forEach((v,j)=>{
      g.append("text").attr("x",x(xTicks[j])).attr("y",rowYs[k]).attr("dy","0.35em").attr("text-anchor","middle")
        .attr("font-family",FONT).attr("font-size",5.5).attr("fill",TXT).text(v);
    });
  });
  xTicks.forEach(t=>{
    g.append("line").attr("x1",x(t)).attr("x2",x(t)).attr("y1",tAx).attr("y2",tAx+2).attr("stroke","#444").attr("stroke-width",0.6);
    g.append("text").attr("x",x(t)).attr("y",y0+56.5).attr("dy","0.35em").attr("text-anchor","middle")
      .attr("font-family",FONT).attr("font-size",5.2).attr("fill",TXT).text(t);
  });
  g.append("text").attr("x",(x(0)+x(8))/2).attr("y",y0+65).attr("dy","0.35em").attr("text-anchor","middle")
    .attr("font-family",FONT).attr("font-size",6.3).attr("fill",TXT).text("Time(years)");
  g.append("text").attr("transform",`translate(${colX0[c]-28},${(rowYs[0]+rowYs[1])/2}) rotate(-90)`).attr("dy","0.35em").attr("text-anchor","middle")
    .attr("font-family",FONT).attr("font-size",6).attr("fill",TXT).text(groups[c]);
});
</script>
</body></html>
